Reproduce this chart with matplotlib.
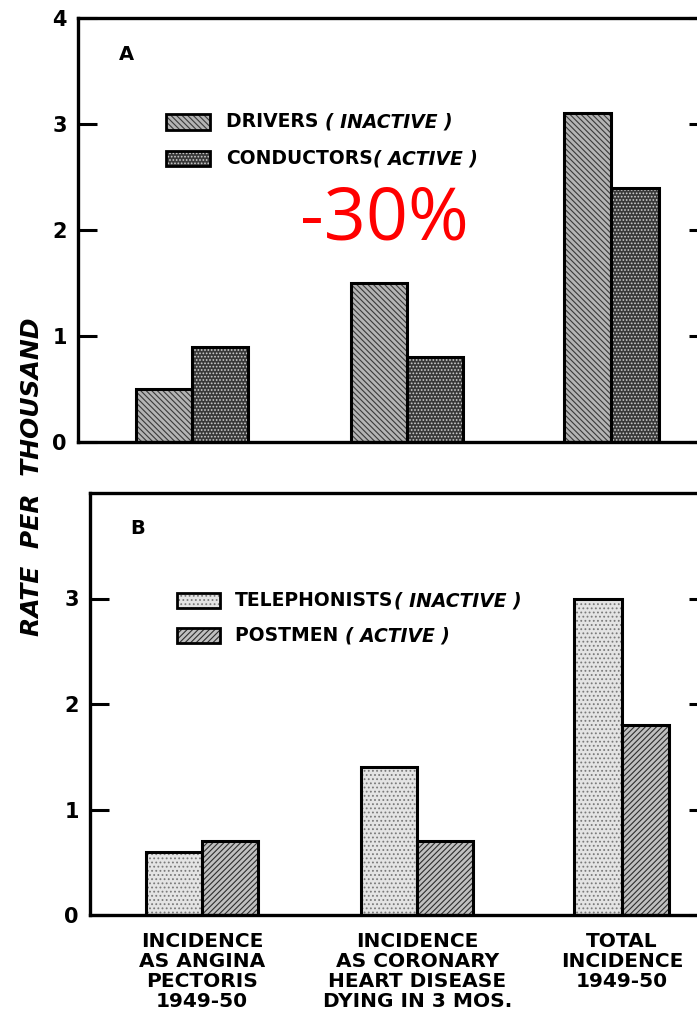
import matplotlib.pyplot as plt
from matplotlib.patches import Rectangle

# data (rate per thousand)
categories = ['INCIDENCE\nAS ANGINA\nPECTORIS\n1949-50',
              'INCIDENCE\nAS CORONARY\nHEART DISEASE\nDYING IN 3 MOS.',
              'TOTAL\nINCIDENCE\n1949-50']
drivers = [0.5, 1.5, 3.1]
conductors = [0.9, 0.8, 2.4]
telephonists = [0.6, 1.4, 3.0]
postmen = [0.7, 0.7, 1.8]

# group centres and bar widths (third group is a bit narrower in the original)
centres = [0.0, 1.0, 1.95]
widths = [0.26, 0.26, 0.22]

plt.rcParams['font.family'] = ['DejaVu Sans']
plt.rcParams['hatch.linewidth'] = 0.8

fig = plt.figure(figsize=(6.97, 10.28), dpi=100)
fig.patch.set_facecolor('white')

axA = fig.add_axes([78 / 697, 1 - 442 / 1028, 630 / 697, 424 / 1028])
axB = fig.add_axes([90 / 697, 1 - 915 / 1028, 618 / 697, 422 / 1028])

# (face, hatch colour, hatch)
styles_A = [('#b4b4b4', '#3a3a3a', '\\\\\\\\\\\\'),
            ('#393939', '#cfcfcf', '.....')]
styles_B = [('#e4e4e4', '#7a7a7a', '....'),
            ('#c0c0c0', '#2e2e2e', '//////')]


def fill_bars(ax, x, h, w, st):
    face, hc, hatch = st
    ax.bar(x, h, width=w, facecolor=face, edgecolor=hc, hatch=hatch, linewidth=0)
    ax.bar(x, h, width=w, fill=False, edgecolor='black', linewidth=2.2)


def draw_panel(ax, s1, s2, st, letter, legend, xlim, ticks):
    left = [c - w / 2 for c, w in zip(centres, widths)]
    right = [c + w / 2 for c, w in zip(centres, widths)]
    fill_bars(ax, left, s1, widths, st[0])
    fill_bars(ax, right, s2, widths, st[1])
    ax.set_xlim(*xlim)
    ax.set_ylim(0, 4)
    ax.set_yticks(ticks)
    ax.set_yticklabels([str(t) for t in ticks])
    ax.tick_params(axis='y', direction='in', length=14, width=2.2,
                   labelsize=15, pad=8, right=True)
    for lab in ax.get_yticklabels():
        lab.set_fontweight('bold')
    for sp in ax.spines.values():
        sp.set_linewidth(2.4)
    ax.text(0.065, 0.915, letter, transform=ax.transAxes, fontsize=14,
            fontweight='bold', ha='left', va='center')
    for i, (name, tag, y) in enumerate(legend):
        face, hc, hatch = st[i]
        ax.add_patch(Rectangle((0.14, y - 0.018), 0.07, 0.036,
                               transform=ax.transAxes, facecolor=face,
                               edgecolor=hc, hatch=hatch, linewidth=0,
                               clip_on=False))
        ax.add_patch(Rectangle((0.14, y - 0.018), 0.07, 0.036,
                               transform=ax.transAxes, fill=False,
                               edgecolor='black', linewidth=2.0,
                               clip_on=False))
        t1 = ax.text(0.235, y, name, transform=ax.transAxes,
                     fontsize=13.5, fontweight='bold', va='center', ha='left')
        ax.annotate(tag, xy=(1, 0.5), xycoords=t1, va='center', ha='left',
                    fontsize=13.5, fontweight='bold', style='italic')


draw_panel(axA, drivers, conductors, styles_A, 'A',
           [('DRIVERS ', '( INACTIVE )', 0.755),
            ('CONDUCTORS', '( ACTIVE )', 0.668)],
           (-0.53, 2.4), [0, 1, 2, 3, 4])
axA.set_xticks([])

draw_panel(axB, telephonists, postmen, styles_B, 'B',
           [('TELEPHONISTS', '( INACTIVE )', 0.745),
            ('POSTMEN ', '( ACTIVE )', 0.662)],
           (-0.52, 2.35), [0, 1, 2, 3])
axB.set_xticks(centres)
axB.set_xticklabels(categories, fontsize=14.5, fontweight='bold',
                    linespacing=1.08)
axB.tick_params(axis='x', length=0, pad=12)

fig.text(32 / 697, 1 - 477 / 1028, 'RATE  PER  THOUSAND', rotation=90,
         fontsize=18, fontweight='bold', style='italic',
         ha='center', va='center')

# red annotation added over the original figure
fig.text(384 / 697, 1 - 220 / 1028, '-30%', color='#ff0000',
         fontsize=53, family=['Open Sans', 'DejaVu Sans'],
         ha='center', va='center')

fig.savefig('out.png', dpi=100, facecolor='white')
